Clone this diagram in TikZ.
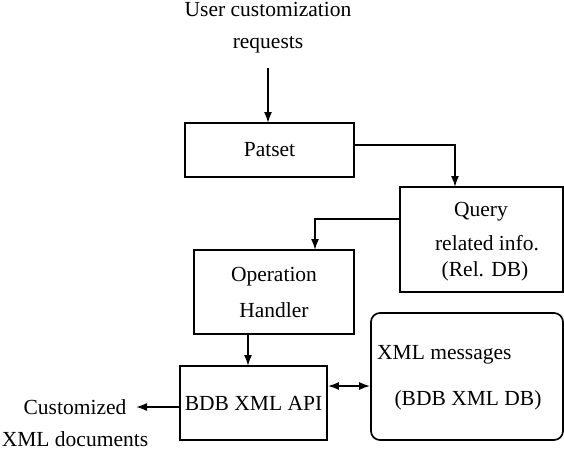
\documentclass[tikz,border=0pt]{standalone}
\usepackage{fontspec}
\setmainfont{Liberation Serif}
\usetikzlibrary{arrows.meta}
\begin{document}
\begin{tikzpicture}[x=1pt,y=-1pt,
  lbl/.style={font=\fontsize{21.5}{32}\selectfont, align=center, inner sep=0pt},
  box/.style={draw, line width=1.7pt, inner sep=0pt},
  tip/.style={Latex[length=11pt,width=8pt]},
  conn/.style={line width=1.7pt, -{Latex[length=11pt,width=8pt]}},
  conn2/.style={line width=1.7pt, {Latex[length=11pt,width=8pt]}-{Latex[length=11pt,width=8pt]}}]
\useasboundingbox (0,0) rectangle (564,453);

% boxes
\node[box, minimum width=169pt, minimum height=54pt] (patset) at (269.5,150) {};
\node[lbl] at (patset.center) {Patset};
\node[box, minimum width=163pt, minimum height=105pt] (query) at (481.5,239.5) {};
\node[lbl] at (481,212) {Query};
\node[lbl] at (487,243) {related info.};
\node[lbl] at (485,271) {(Rel. DB)};
\node[box, minimum width=160pt, minimum height=84pt] (oper) at (274,292) {};
\node[lbl] at (274,277) {Operation};
\node[lbl] at (274,310) {Handler};
\node[box, minimum width=147pt, minimum height=74pt] (api) at (253.5,403) {};
\node[lbl] at (api.center) {BDB XML API};
\node[box, rounded corners=9pt, minimum width=192pt, minimum height=127pt] (xmldb) at (467,376.5) {};
\node[lbl, anchor=west] at (377,355) {XML messages};
\node[lbl] at (468,400) {(BDB XML DB)};

% free labels
\node[lbl] (req) at (268,28) {User customization\\requests};
\node[lbl] (out) at (75,423) {Customized\\XML documents};

% connectors
\coordinate (reqend) at (268,68);
\draw[conn] (reqend) -- (268,123);
\draw[conn] (patset.east |- 0,145) -| (455,187);
\draw[conn] (query.west |- 0,219) -| (315,250);
\draw[conn] (248,334) -- (248,366);
\draw[conn2] (api.east |- 0,386) -- (xmldb.west |- 0,386);
\coordinate (outend) at (136,407);
\draw[conn] (api.west |- 0,407) -- (outend);
\end{tikzpicture}
\end{document}
